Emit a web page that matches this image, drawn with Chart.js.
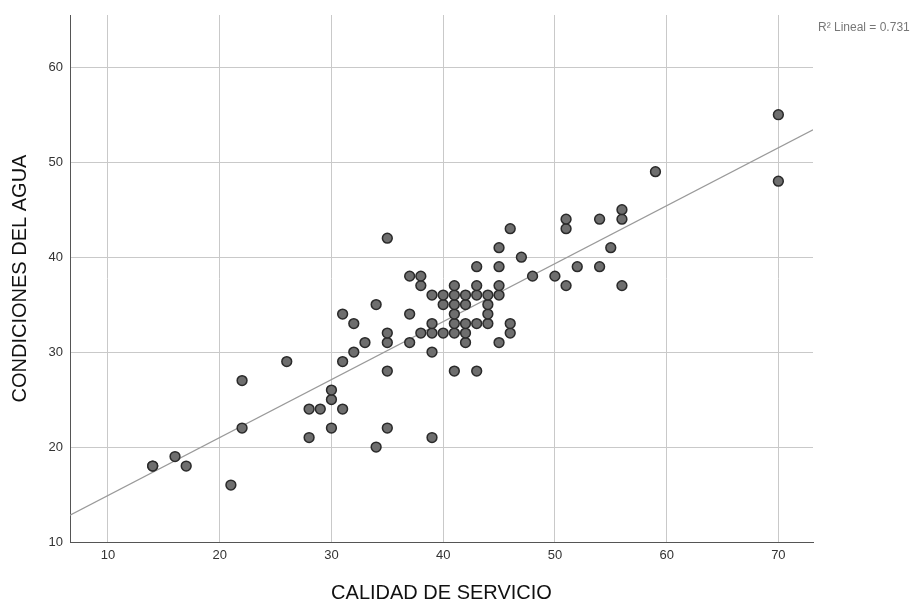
<!DOCTYPE html>
<html>
<head>
<meta charset="utf-8">
<script src="https://cdn.jsdelivr.net/npm/chart.js@4.4.1/dist/chart.umd.min.js"></script>
<style>
  html, body { margin: 0; padding: 0; background: #fff; }
  #wrap { width: 923px; height: 603px; position: relative; }
</style>
</head>
<body>
<div id="wrap"><canvas id="chart" width="923" height="603"></canvas></div>
<script>
// CALIDAD DE SERVICIO (x) vs CONDICIONES DEL AGUA (y)
const calidad = [14, 14, 16, 17, 21, 22, 22, 26, 28, 28, 29, 30, 30, 30, 31, 31, 31, 32, 32, 33,
  34, 34, 35, 35, 35, 35, 35, 37, 37, 37, 38, 38, 38, 39, 39, 39, 39, 39, 40, 40, 40,
  41, 41, 41, 41, 41, 41, 41, 42, 42, 42, 42, 42, 43, 43, 43, 43, 43, 44, 44, 44, 44,
  45, 45, 45, 45, 45, 46, 46, 46, 47, 48, 50, 51, 51, 51, 52, 54, 54, 55, 56, 56, 56,
  59, 70, 70];
const condiciones = [18, 18, 19, 18, 16, 22, 27, 29, 21, 24, 24, 22, 25, 26, 24, 29, 34, 30, 33, 31,
  20, 35, 22, 28, 31, 32, 42, 31, 34, 38, 32, 37, 38, 21, 30, 32, 33, 36, 32, 35, 36,
  28, 32, 33, 34, 35, 36, 37, 31, 32, 33, 35, 36, 28, 33, 36, 37, 39, 33, 34, 35, 36,
  31, 36, 37, 39, 41, 32, 33, 43, 40, 38, 38, 37, 43, 44, 39, 39, 44, 41, 37, 44, 45,
  49, 48, 55];
const xTicks = [10, 20, 30, 40, 50, 60, 70];
const yTicks = [10, 20, 30, 40, 50, 60];
const xMin = 6.6, xMax = 73.1;
const yMin = 10, yMax = 65.5;
const r2Label = 'R\u00b2 Lineal = 0.731';

const points = calidad.map((x, i) => ({ x: x, y: condiciones[i] }));

// least squares fit
function linearFit(xs, ys) {
  const n = xs.length;
  const mx = xs.reduce((a, b) => a + b, 0) / n;
  const my = ys.reduce((a, b) => a + b, 0) / n;
  let sxy = 0, sxx = 0;
  for (let i = 0; i < n; i++) {
    sxy += (xs[i] - mx) * (ys[i] - my);
    sxx += (xs[i] - mx) * (xs[i] - mx);
  }
  const b = sxy / sxx;
  return { a: my - b * mx, b: b };
}
const fit = linearFit(calidad, condiciones);
const fitLine = [xMin, xMax].map(x => ({ x: x, y: fit.a + fit.b * x }));

const font = '"Liberation Sans", Arial, sans-serif';

const r2Plugin = {
  id: 'r2text',
  afterDraw(chart) {
    const ctx = chart.ctx;
    ctx.save();
    ctx.font = '12px ' + font;
    ctx.fillStyle = '#777';
    ctx.textAlign = 'left';
    ctx.textBaseline = 'middle';
    ctx.fillText(r2Label, 818, 28);
    ctx.restore();
  }
};

new Chart(document.getElementById('chart'), {
  type: 'scatter',
  data: {
    datasets: [
      {
        data: points,
        backgroundColor: '#6e6e6e',
        borderColor: '#2a2a2a',
        borderWidth: 1.5,
        pointRadius: 4.9,
        order: 1
      },
      {
        type: 'line',
        data: fitLine,
        borderColor: '#9a9a9a',
        borderWidth: 1.2,
        pointRadius: 0,
        fill: false,
        order: 2
      }
    ]
  },
  options: {
    responsive: false,
    animation: false,
    events: [],
    layout: { padding: { top: 15, right: 110, left: 0, bottom: 0 } },
    plugins: { legend: { display: false }, tooltip: { enabled: false } },
    scales: {
      x: {
        type: 'linear',
        min: xMin,
        max: xMax,
        afterBuildTicks: s => { s.ticks = xTicks.map(v => ({ value: v })); },
        afterFit: s => { s.height = 61; },
        grid: { color: '#c9c9c9', lineWidth: 1, drawTicks: false },
        border: { display: true, color: '#555', width: 1 },
        ticks: { color: '#333', font: { family: font, size: 13 }, padding: 6 },
        title: {
          display: true,
          text: 'CALIDAD DE SERVICIO',
          color: '#111',
          font: { family: font, size: 20, lineHeight: 1 },
          padding: { top: 0, bottom: 0 }
        }
      },
      y: {
        type: 'linear',
        min: yMin,
        max: yMax,
        afterBuildTicks: s => { s.ticks = yTicks.map(v => ({ value: v })); },
        afterFit: s => { s.width = 70; },
        grid: { color: '#c9c9c9', lineWidth: 1, drawTicks: false },
        border: { display: true, color: '#555', width: 1 },
        ticks: { color: '#333', font: { family: font, size: 13 }, padding: 7 },
        title: {
          display: true,
          text: 'CONDICIONES DEL AGUA',
          color: '#111',
          font: { family: font, size: 20, lineHeight: 1 },
          padding: { top: 10, bottom: 0 }
        }
      }
    }
  },
  plugins: [r2Plugin]
});
</script>
</body>
</html>
